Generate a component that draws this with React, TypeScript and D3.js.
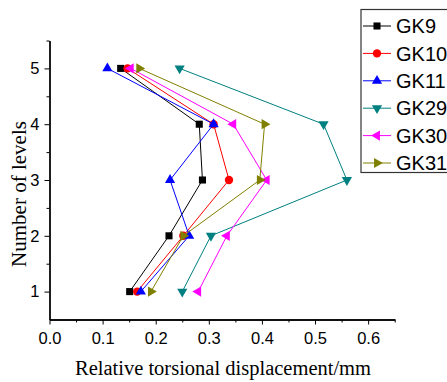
import React, { useEffect, useRef } from "react";
import * as d3 from "d3";

const levels = [1, 2, 3, 4, 5];
const seriesNames = ["GK9", "GK10", "GK11", "GK29", "GK30", "GK31"];
const gk9 = [0.151, 0.225, 0.288, 0.282, 0.134];
const gk10 = [0.165, 0.252, 0.338, 0.309, 0.147];
const gk11 = [0.172, 0.263, 0.227, 0.309, 0.109];
const gk29 = [0.25, 0.304, 0.56, 0.516, 0.245];
const gk30 = [0.28, 0.334, 0.409, 0.346, 0.153];
const gk31 = [0.191, 0.252, 0.396, 0.405, 0.169];
const xTicks = [0, 0.1, 0.2, 0.3, 0.4, 0.5, 0.6];
const xMinor = [0.05, 0.15, 0.25, 0.35, 0.45, 0.55, 0.65];
const yMinor = [1.5, 2.5, 3.5, 4.5, 5.5];

const colors = ["#000000", "#ff0000", "#0000ff", "#008080", "#ff00ff", "#808000"];
// marker type + rotation + size for each series
const markers: [d3.SymbolType, number, number][] = [
  [d3.symbolSquare, 0, 50],
  [d3.symbolCircle, 0, 55],
  [d3.symbolTriangle, 0, 45],
  [d3.symbolTriangle, 180, 45],
  [d3.symbolTriangle, -90, 45],
  [d3.symbolTriangle, 90, 45],
];

export default function App() {
  const xAxisRef = useRef<SVGGElement | null>(null);
  const yAxisRef = useRef<SVGGElement | null>(null);

  const width = 447;
  const height = 382;
  const x = d3.scaleLinear().domain([0, 0.65]).range([49.5, 394.7]);
  const y = d3.scaleLinear().domain([0.5, 5.5]).range([319.5, 40.5]);

  const allSeries = [gk9, gk10, gk11, gk29, gk30, gk31];
  const line = d3
    .line<[number, number]>()
    .x((d) => x(d[0]))
    .y((d) => y(d[1]));

  useEffect(() => {
    const xg = d3.select(xAxisRef.current!);
    xg.selectAll("*").remove();
    xg.append("g")
      .call(d3.axisBottom(x).tickValues(xMinor).tickSize(3).tickSizeOuter(0).tickFormat(() => ""));
    xg.append("g")
      .call(d3.axisBottom(x).tickValues(xTicks).tickSize(5).tickSizeOuter(0).tickFormat(d3.format(".1f")));
    xg.selectAll("text")
      .attr("font-family", "Arial, 'Liberation Sans', sans-serif")
      .attr("font-size", 16.5)
      .attr("fill", "#000")
      .attr("dy", "1.0em");
    xg.selectAll("path.domain").attr("stroke", "#000").attr("stroke-width", 1.3);
    xg.selectAll("line").attr("stroke", "#000");

    const yg = d3.select(yAxisRef.current!);
    yg.selectAll("*").remove();
    yg.append("g")
      .call(d3.axisLeft(y).tickValues(yMinor).tickSize(3).tickSizeOuter(0).tickFormat(() => ""));
    yg.append("g")
      .call(d3.axisLeft(y).tickValues(levels).tickSize(5).tickSizeOuter(0).tickFormat(d3.format("d")));
    yg.selectAll("text")
      .attr("font-family", "Arial, 'Liberation Sans', sans-serif")
      .attr("font-size", 16.5)
      .attr("fill", "#000")
      .attr("x", -10);
    yg.selectAll("path.domain").attr("stroke", "#000").attr("stroke-width", 1.3);
    yg.selectAll("line").attr("stroke", "#000");
  }, []);

  const sym = (i: number) => d3.symbol().type(markers[i][0]).size(markers[i][2])()!;

  return (
    <svg width={width} height={height} style={{ position: "absolute", left: 0, top: 0, background: "#fff" }}>
      <rect width={width} height={height} fill="#fff" />
      <g ref={xAxisRef} transform={`translate(0,${y(0.5)})`} />
      <g ref={yAxisRef} transform={`translate(${x(0)},0)`} />

      {allSeries.map((vals, i) => {
        const pts = vals.map((v, k) => [v, levels[k]] as [number, number]);
        return (
          <g key={seriesNames[i]}>
            <path d={line(pts)!} fill="none" stroke={colors[i]} strokeWidth={1} />
            {pts.map((p, k) => (
              <path
                key={k}
                d={sym(i)}
                fill={colors[i]}
                transform={`translate(${x(p[0])},${y(p[1])}) rotate(${markers[i][1]})`}
              />
            ))}
          </g>
        );
      })}

      {/* legend */}
      <g>
        <rect x={361} y={9.5} width={100} height={163} fill="#fff" stroke="#333" strokeWidth={1.2} />
        {seriesNames.map((name, i) => {
          const ly = 26 + i * 27.4;
          return (
            <g key={name}>
              <line x1={363} x2={391} y1={ly} y2={ly} stroke={colors[i]} strokeWidth={1} />
              <path d={sym(i)} fill={colors[i]} transform={`translate(377,${ly}) rotate(${markers[i][1]})`} />
              <text
                x={396}
                y={ly}
                dy="0.36em"
                fontFamily="Arial, 'Liberation Sans', sans-serif"
                fontSize={20}
                fill="#000"
              >
                {name}
              </text>
            </g>
          );
        })}
      </g>

      <text
        x={223}
        y={375}
        textAnchor="middle"
        fontFamily="'Times New Roman', 'Liberation Serif', serif"
        fontSize={20.5}
        fill="#000"
      >
        Relative torsional displacement/mm
      </text>
      <text
        transform={`translate(26,194) rotate(-90)`}
        textAnchor="middle"
        fontFamily="'Times New Roman', 'Liberation Serif', serif"
        fontSize={21}
        fill="#000"
      >
        Number of levels
      </text>
    </svg>
  );
}
